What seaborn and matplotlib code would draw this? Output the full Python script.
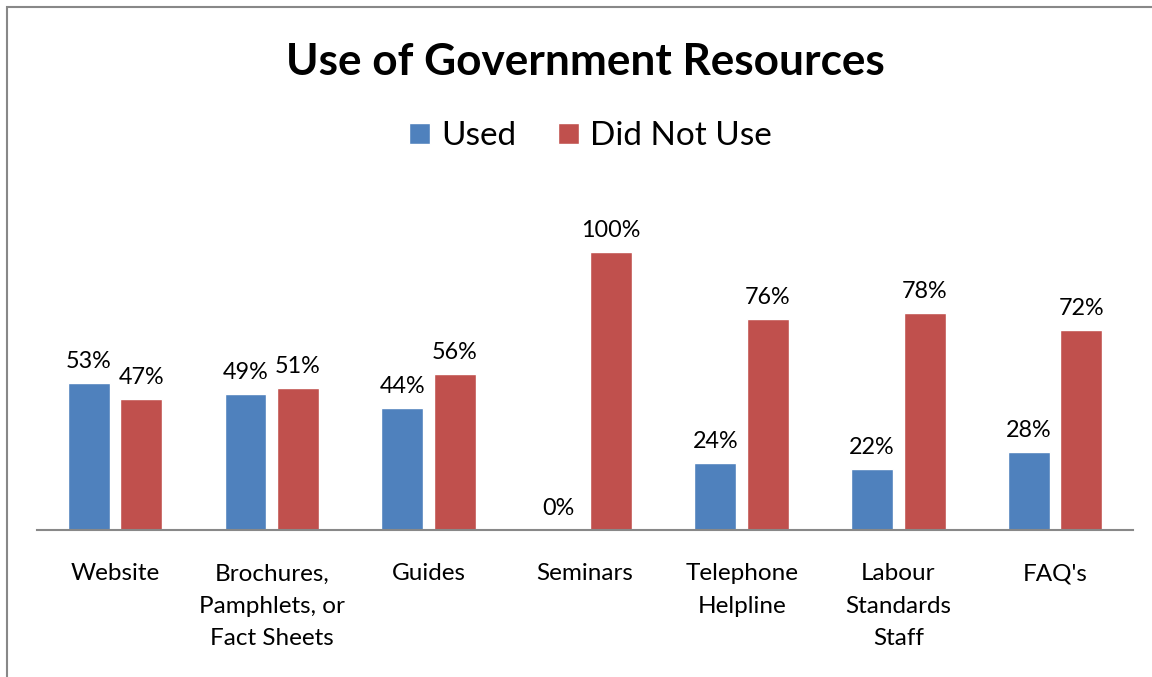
import pandas as pd
import matplotlib.pyplot as plt
import seaborn as sns
from matplotlib.patches import Rectangle

# Chart data
categories = ["Website", "Brochures,\nPamphlets, or\nFact Sheets", "Guides", "Seminars",
              "Telephone\nHelpline", "Labour\nStandards\nStaff", "FAQ's"]
used = [53, 49, 44, 0, 24, 22, 28]
did_not_use = [47, 51, 56, 100, 76, 78, 72]
series = ["Used", "Did Not Use"]
colors = ["#4F81BD", "#C0504D"]

df = pd.DataFrame({
    "Resource": categories * 2,
    "Response": [series[0]] * len(categories) + [series[1]] * len(categories),
    "Percent": used + did_not_use,
})

sns.set_style("white")
plt.rcParams['font.family'] = ['Lato', 'DejaVu Sans']
plt.rcParams['text.color'] = 'black'
plt.rcParams['xtick.color'] = 'black'

fig = plt.figure(figsize=(11.52, 6.77), dpi=100)
ax = fig.add_axes([0.0319, 0.2171, 0.9519, 0.4928])

sns.barplot(data=df, x="Resource", y="Percent", hue="Response", order=categories,
            hue_order=series, palette=colors, width=0.67, gap=0.2,
            saturation=1, ax=ax, legend=False)

# Percent labels above bars
for container in ax.containers:
    ax.bar_label(container, fmt="{:.0f}%", padding=8, fontsize=16.8, color="black")

ax.set_ylim(0, 120)
ax.set_xlim(-0.5, len(categories) - 0.5)
ax.set_xlabel("")
ax.set_ylabel("")
ax.set_yticks([])
ax.set_xticks(range(len(categories)), categories, linespacing=1.66)
ax.tick_params(axis="x", length=0, pad=24, labelsize=17.5, labelcolor="black")
for side in ["top", "left", "right"]:
    ax.spines[side].set_visible(False)
ax.spines["bottom"].set_color("#888888")
ax.spines["bottom"].set_linewidth(1.5)

# Title and legend
fig.text(0.508, 0.909, "Use of Government Resources", ha="center", va="center",
         fontsize=31.8, fontweight="bold", color="black")
handles = [Rectangle((0, 0), 1, 1, facecolor=c) for c in colors]
fig.legend(handles, series, loc="center", bbox_to_anchor=(0.5126, 0.799), ncol=2,
           frameon=False, fontsize=24, handlelength=0.62, handleheight=0.62,
           handletextpad=0.35, columnspacing=1.25, labelcolor="black")

# Outer chart border (partially cut off on the right and bottom)
fig.patches.append(Rectangle((7 / 1152, -0.1), 2, 1.1 - 7 / 677, transform=fig.transFigure,
                             fill=False, edgecolor="#888888", linewidth=1.5))

plt.savefig("out.png", dpi=100)
plt.close()
